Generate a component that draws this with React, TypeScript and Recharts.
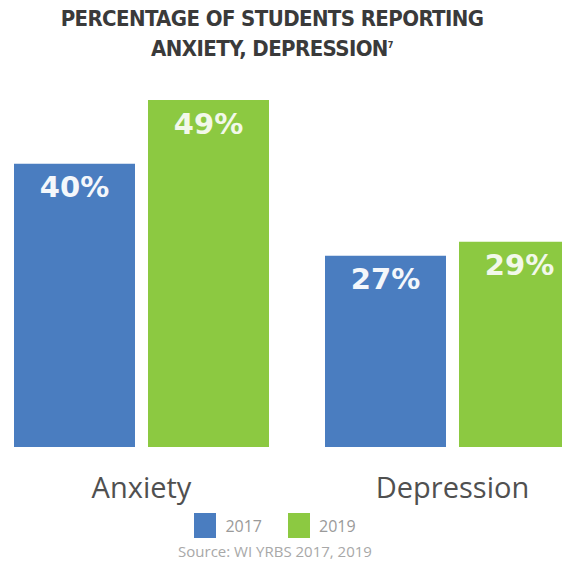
import { Bar, BarChart, LabelList, XAxis, YAxis } from "recharts";

const categories = ["Anxiety", "Depression"];
const values2017 = [40, 27];
const values2019 = [49, 29];
const seriesNames = ["2017", "2019"];
const seriesColors = ["#4a7dc0", "#8cc941"];
const titleLines = ["PERCENTAGE OF STUDENTS REPORTING", "ANXIETY, DEPRESSION"];
const sourceText = "Source: WI YRBS 2017, 2019";

const chartData = categories.map((name, i) => ({
  name,
  y2017: values2017[i],
  y2019: values2019[i],
}));

const pct = (v: number) => `${v}%`;

const labelStyle = {
  fontSize: 29,
  fontWeight: 700,
  fontFamily: "'DejaVu Sans', sans-serif",
};

export default function App() {
  return (
    <div
      style={{
        position: "fixed",
        left: 0,
        top: 0,
        width: 562,
        height: 569,
        overflow: "hidden",
        background: "#ffffff",
      }}
    >
      <div
        style={{
          position: "absolute",
          top: 6,
          left: 0,
          width: 544,
          textAlign: "center",
          fontFamily: "'DejaVu Sans Condensed', sans-serif",
          fontWeight: 700,
          fontSize: 22,
          letterSpacing: -0.6,
          lineHeight: "26px",
          color: "#3a3a3a",
        }}
      >
        <div>{titleLines[0]}</div>
        <div>
          {titleLines[1]}
          <sup style={{ fontSize: 9 }}>7</sup>
        </div>
      </div>

      <div style={{ position: "absolute", left: -14, top: 0 }}>
        <BarChart
          width={622}
          height={569}
          data={chartData}
          margin={{ top: 100, right: 0, bottom: 62, left: 0 }}
          barCategoryGap={28}
          barGap={13}
        >
          <XAxis
            dataKey="name"
            axisLine={false}
            tickLine={false}
            height={60}
            tickMargin={24}
            tick={{
              fill: "#505050",
              fontSize: 29,
              fontFamily: "'Open Sans', sans-serif",
            }}
          />
          <YAxis hide domain={[0, 49]} />
          <Bar dataKey="y2017" fill={seriesColors[0]} isAnimationActive={false}>
            <LabelList
              dataKey="y2017"
              position="insideTop"
              offset={13}
              formatter={pct}
              fill="#f4f7fb"
              {...labelStyle}
            />
          </Bar>
          <Bar dataKey="y2019" fill={seriesColors[1]} isAnimationActive={false}>
            <LabelList
              dataKey="y2019"
              position="insideTop"
              offset={13}
              formatter={pct}
              fill="#f2f8ea"
              {...labelStyle}
            />
          </Bar>
        </BarChart>
      </div>

      <div
        style={{
          position: "absolute",
          top: 513,
          left: 0,
          width: 550,
          display: "flex",
          justifyContent: "center",
          gap: 26,
          fontFamily: "'Open Sans', sans-serif",
          fontSize: 16,
          color: "#9a9a9a",
        }}
      >
        {seriesNames.map((name, i) => (
          <div key={name} style={{ display: "flex", alignItems: "center", gap: 9 }}>
            <span
              style={{
                display: "inline-block",
                width: 22,
                height: 25,
                background: seriesColors[i],
              }}
            />
            <span>{name}</span>
          </div>
        ))}
      </div>

      <div
        style={{
          position: "absolute",
          top: 541,
          left: 0,
          width: 550,
          textAlign: "center",
          fontFamily: "'Open Sans', sans-serif",
          fontSize: 15,
          color: "#a8a8a8",
        }}
      >
        {sourceText}
      </div>
    </div>
  );
}
